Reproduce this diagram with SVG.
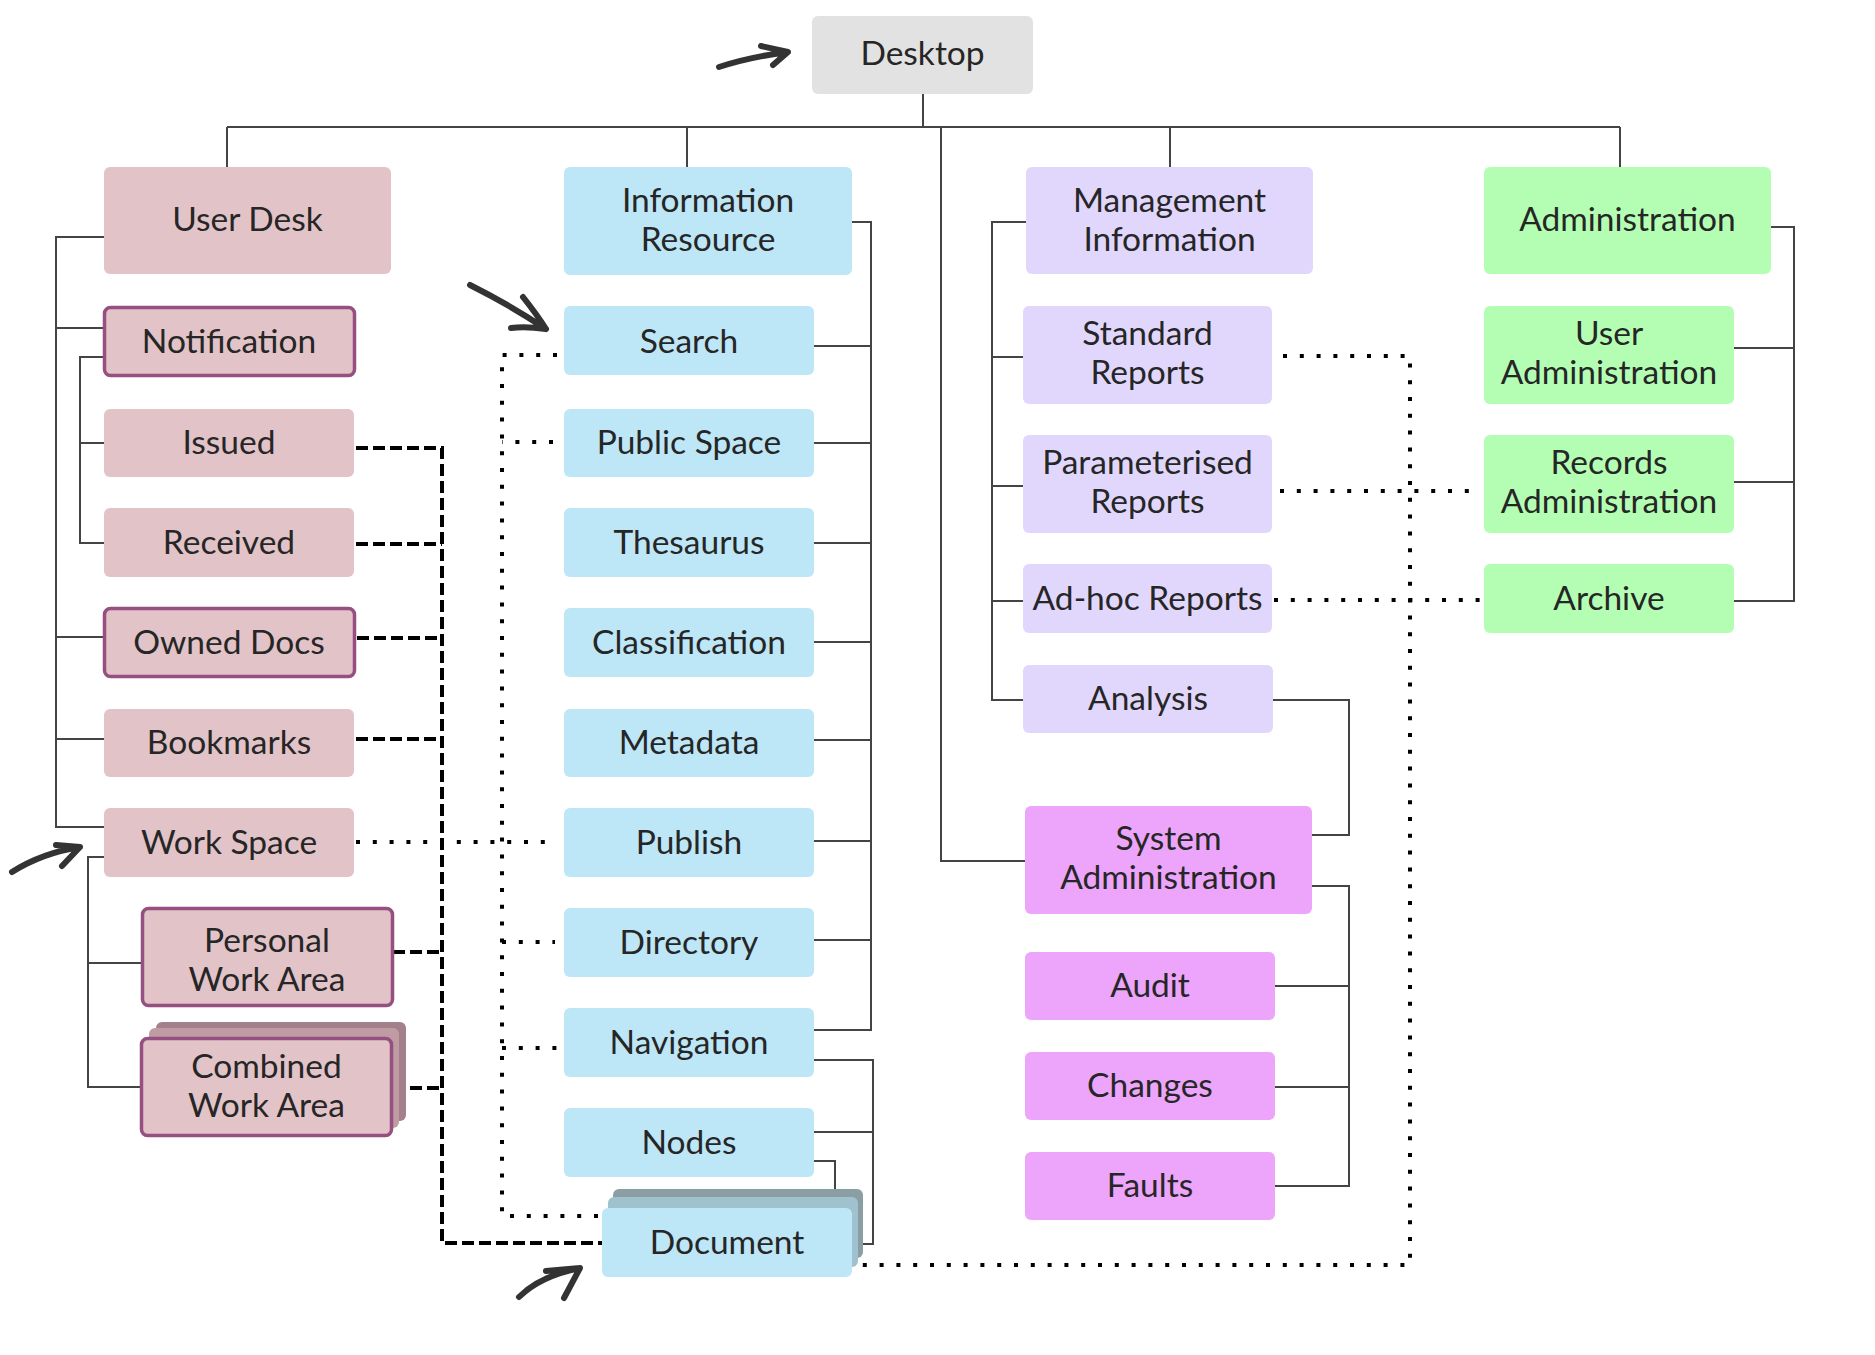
<svg xmlns="http://www.w3.org/2000/svg" width="1875" height="1355" viewBox="0 0 1875 1355">
<style>
.t{font-family:Lato,"Liberation Sans",sans-serif;font-size:33.5px;fill:#262626;text-anchor:middle}
.gray{fill:#e2e2e2}
.pink{fill:#e2c3c8}
.pinkb{fill:#e2c3c8;stroke:#954f81;stroke-width:3.5}
.blue{fill:#bde6f7}
.lav{fill:#e1d7fd}
.mag{fill:#eca5fb}
.green{fill:#b4feb4}
.ln{fill:none;stroke:#444;stroke-width:2}
.dash{fill:none;stroke:#000;stroke-width:4;stroke-dasharray:12 5}
.dot{fill:none;stroke:#000;stroke-width:4;stroke-dasharray:4 12.8}
.arr{fill:none;stroke:#333;stroke-width:6;stroke-linecap:round;stroke-linejoin:round}
</style>
<g id="connectors">
<path class="ln" d="M923 94V127M227 127H1620M227 127V167M687 127V167M1170 127V167M1620 127V167"/>
<path class="ln" d="M941 127V861H1025"/>
<path class="ln" d="M104 237H56V827H104M56 328H104M56 637H104M56 739H104"/>
<path class="ln" d="M104 357H80V543H104M80 443H104"/>
<path class="ln" d="M104 857H88V1087H140M88 963H141"/>
<path class="ln" d="M852 222H871V1030H814M814 346H871M814 443H871M814 543H871M814 642H871M814 740H871M814 841H871M814 940H871"/>
<path class="ln" d="M814 1060H873V1244H852M814 1132H873"/>
<path class="ln" d="M814 1161H835V1208"/>
<path class="ln" d="M1026 222H992V700H1023M992 357H1023M992 486H1023M992 601H1023"/>
<path class="ln" d="M1273 700H1349V835H1312"/>
<path class="ln" d="M1312 886H1349V1186H1275M1275 986H1349M1275 1087H1349"/>
<path class="ln" d="M1771 227H1794V601H1734M1734 348H1794M1734 482H1794"/>
<path class="dash" d="M356 448H442V1243H602"/>
<path class="dash" d="M356 544H442M357 638H442M356 739H442M393 952H442M393 1088H442"/>
<path class="dot" d="M557 355H502V1216H600"/>
<path class="dot" d="M553 442H502M356 842H553M502 942H555M502 1048H560"/>
<path class="dot" d="M1283 356H1410V1265H852"/>
<path class="dot" d="M1280 491H1478M1274 600H1480"/>
<path class="arr" d="M719 67Q750 57 788 52M761 46L788 52L773 65"/>
<path class="arr" d="M470 285Q510 305 546 329M523 297Q538 316 546 329Q525 326 511 328"/>
<path class="arr" d="M12 872Q42 853 80 847M56 845L80 847L62 866"/>
<path class="arr" d="M519 1297Q540 1276 580 1268M546 1271L580 1268L564 1298"/>
</g>
<g id="desktop"><rect class="gray" x="812" y="16" width="221" height="78" rx="6"/><text class="t" x="922.5" y="65">Desktop</text></g>
<g id="user-desk"><rect class="pink" x="104" y="167" width="287" height="107" rx="6"/><text class="t" x="247.5" y="231">User Desk</text></g>
<g id="information-resource"><rect class="blue" x="564" y="167" width="288" height="108" rx="6"/><text class="t" x="708" y="212">Information</text><text class="t" x="708" y="251">Resource</text></g>
<g id="management-information"><rect class="lav" x="1026" y="167" width="287" height="107" rx="6"/><text class="t" x="1169.5" y="212">Management</text><text class="t" x="1169.5" y="251">Information</text></g>
<g id="administration"><rect class="green" x="1484" y="167" width="287" height="107" rx="6"/><text class="t" x="1627.5" y="231">Administration</text></g>
<g id="notification"><rect class="pinkb" x="104.5" y="307.5" width="250" height="68" rx="6"/><text class="t" x="229" y="353">Notification</text></g>
<g id="issued"><rect class="pink" x="104" y="409" width="250" height="68" rx="6"/><text class="t" x="229" y="454">Issued</text></g>
<g id="received"><rect class="pink" x="104" y="508" width="250" height="69" rx="6"/><text class="t" x="229" y="553.5">Received</text></g>
<g id="owned-docs"><rect class="pinkb" x="104.5" y="608.5" width="250" height="68" rx="6"/><text class="t" x="229" y="653.5">Owned Docs</text></g>
<g id="bookmarks"><rect class="pink" x="104" y="709" width="250" height="68" rx="6"/><text class="t" x="229" y="754">Bookmarks</text></g>
<g id="work-space"><rect class="pink" x="104" y="808" width="250" height="69" rx="6"/><text class="t" x="229" y="853.5">Work Space</text></g>
<g id="personal-work-area"><rect class="pinkb" x="142.5" y="908.5" width="250" height="97" rx="6"/><text class="t" x="267" y="952">Personal</text><text class="t" x="267" y="991">Work Area</text></g>
<g id="combined-work-area"><rect fill="#a3808a" x="156" y="1022" width="250" height="99" rx="6"/><rect fill="#bf9ca4" x="149" y="1028" width="250" height="100" rx="6"/><rect class="pinkb" x="141.5" y="1038.5" width="250" height="97" rx="6"/><text class="t" x="266.5" y="1077.5">Combined</text><text class="t" x="266.5" y="1116.5">Work Area</text></g>
<g id="search"><rect class="blue" x="564" y="306" width="250" height="69" rx="6"/><text class="t" x="689" y="352.5">Search</text></g>
<g id="public-space"><rect class="blue" x="564" y="409" width="250" height="68" rx="6"/><text class="t" x="689" y="454">Public Space</text></g>
<g id="thesaurus"><rect class="blue" x="564" y="508" width="250" height="69" rx="6"/><text class="t" x="689" y="553.5">Thesaurus</text></g>
<g id="classification"><rect class="blue" x="564" y="608" width="250" height="69" rx="6"/><text class="t" x="689" y="653.5">Classification</text></g>
<g id="metadata"><rect class="blue" x="564" y="709" width="250" height="68" rx="6"/><text class="t" x="689" y="754">Metadata</text></g>
<g id="publish"><rect class="blue" x="564" y="808" width="250" height="69" rx="6"/><text class="t" x="689" y="853.5">Publish</text></g>
<g id="directory"><rect class="blue" x="564" y="908" width="250" height="69" rx="6"/><text class="t" x="689" y="953.5">Directory</text></g>
<g id="navigation"><rect class="blue" x="564" y="1008" width="250" height="69" rx="6"/><text class="t" x="689" y="1053.5">Navigation</text></g>
<g id="nodes"><rect class="blue" x="564" y="1108" width="250" height="69" rx="6"/><text class="t" x="689" y="1153.5">Nodes</text></g>
<g id="document"><rect fill="#8b9ea3" x="613" y="1189" width="250" height="69" rx="6"/><rect fill="#9fc2ce" x="608" y="1197" width="250" height="70" rx="6"/><rect class="blue" x="602" y="1208" width="250" height="69" rx="6"/><text class="t" x="727" y="1253.5">Document</text></g>
<g id="standard-reports"><rect class="lav" x="1023" y="306" width="249" height="98" rx="6"/><text class="t" x="1147.5" y="345">Standard</text><text class="t" x="1147.5" y="384">Reports</text></g>
<g id="parameterised-reports"><rect class="lav" x="1023" y="435" width="249" height="98" rx="6"/><text class="t" x="1147.5" y="474">Parameterised</text><text class="t" x="1147.5" y="513">Reports</text></g>
<g id="adhoc-reports"><rect class="lav" x="1023" y="564" width="249" height="69" rx="6"/><text class="t" x="1147.5" y="609.5">Ad-hoc Reports</text></g>
<g id="analysis"><rect class="lav" x="1023" y="665" width="250" height="68" rx="6"/><text class="t" x="1148" y="710">Analysis</text></g>
<g id="system-administration"><rect class="mag" x="1025" y="806" width="287" height="108" rx="6"/><text class="t" x="1168.5" y="850">System</text><text class="t" x="1168.5" y="889">Administration</text></g>
<g id="audit"><rect class="mag" x="1025" y="952" width="250" height="68" rx="6"/><text class="t" x="1150" y="997">Audit</text></g>
<g id="changes"><rect class="mag" x="1025" y="1052" width="250" height="68" rx="6"/><text class="t" x="1150" y="1097">Changes</text></g>
<g id="faults"><rect class="mag" x="1025" y="1152" width="250" height="68" rx="6"/><text class="t" x="1150" y="1197">Faults</text></g>
<g id="user-administration"><rect class="green" x="1484" y="306" width="250" height="98" rx="6"/><text class="t" x="1609" y="345">User</text><text class="t" x="1609" y="384">Administration</text></g>
<g id="records-administration"><rect class="green" x="1484" y="435" width="250" height="98" rx="6"/><text class="t" x="1609" y="474">Records</text><text class="t" x="1609" y="513">Administration</text></g>
<g id="archive"><rect class="green" x="1484" y="564" width="250" height="69" rx="6"/><text class="t" x="1609" y="609.5">Archive</text></g>
</svg>
